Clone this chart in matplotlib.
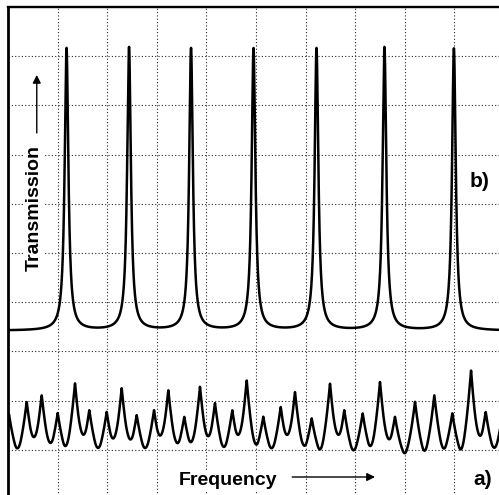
import numpy as np
import matplotlib
matplotlib.use("Agg")
import matplotlib.pyplot as plt

plt.rcParams['font.family'] = ['Liberation Sans', 'DejaVu Sans']

# screen is 10 x 10 divisions, picture is cropped a little at right and bottom
# trace b) : Fabry-Perot transmission peaks
b_centers = [1.18, 2.44, 3.69, 4.95, 6.22, 7.59, 8.99]
b_tops = [9.17, 9.19, 9.17, 9.17, 9.17, 9.19, 9.16]
b_base = 3.42

# trace a) : multimode spectrum, peak positions and peak levels
a_centers = [0.02, 0.377, 0.679, 1.002, 1.351, 1.639, 1.990, 2.292, 2.595,
             2.944, 3.232, 3.554, 3.871, 4.173, 4.522, 4.812, 5.147, 5.498,
             5.786, 6.123, 6.492, 6.780, 7.151, 7.500, 7.802, 8.206, 8.595,
             8.958, 9.335, 9.631, 9.98]
a_tops = [1.72, 1.978, 2.114, 1.748, 2.358, 1.809, 1.774, 2.256, 1.707,
          1.809, 2.215, 1.673, 2.283, 1.951, 1.809, 2.419, 1.673, 1.876,
          2.181, 1.640, 2.352, 1.809, 1.742, 2.384, 1.673, 1.978, 2.114,
          1.742, 2.622, 1.774, 1.80]
a_valley = 1.138

x = np.linspace(0, 10, 5000)

# b) lorentzian lines
gam = 0.045
bc = np.array(b_centers)
Mb = 1.0 / (1 + ((bc[:, None] - bc[None, :]) / gam) ** 2)
b_amp = np.linalg.solve(Mb, np.array(b_tops) - b_base)
yb = b_base + sum(A / (1 + ((x - c) / gam) ** 2) for A, c in zip(b_amp, bc))


# a) cusp topped lines, base adjusted so the valleys sit on a_valley
def line_a(d, s=0.24):
    return np.clip(1 - np.abs(d) / s, 0, None) ** 1.8


ac = np.array(a_centers)
Ma = line_a(ac[:, None] - ac[None, :])
off = 0.05
for _ in range(40):
    a_amp = np.linalg.solve(Ma, np.array(a_tops) - a_valley + off)
    ya = a_valley - off + sum(A * line_a(x - c) for A, c in zip(a_amp, ac))
    mins = [ya[(x > c1) & (x < c2)].min() for c1, c2 in zip(ac[1:-2], ac[2:-1])]
    off += np.mean(mins) - a_valley

fig = plt.figure(figsize=(4.99, 4.95), dpi=100, facecolor='white')
ax = fig.add_axes([8 / 499, (495 - 499) / 495, 496 / 499, 492 / 495])
ax.set_xlim(0, 10)
ax.set_ylim(0, 10)
ax.set_xticks(np.arange(0, 11))
ax.set_yticks(np.arange(0, 11))
ax.tick_params(length=0, labelbottom=False, labelleft=False)
ax.set_axisbelow(True)
ax.grid(True, color='0.15', linestyle=(0, (1, 2)), linewidth=0.8)
ax.spines['left'].set_linewidth(2.0)
ax.spines['top'].set_linewidth(1.7)
ax.spines['right'].set_visible(False)
ax.spines['bottom'].set_visible(False)

ax.plot(x, yb, color='black', linewidth=1.8)
ax.plot(x, ya, color='black', linewidth=1.8)

box = dict(facecolor='white', edgecolor='none', pad=1)
ax.text(0.524, 5.915, 'Transmission', rotation=90, fontsize=14, fontweight='bold',
        ha='center', va='center', bbox=box)
ax.annotate('', xy=(0.58, 8.62), xytext=(0.58, 7.44),
            arrowprops=dict(arrowstyle='-|>', color='black', lw=1.0,
                            mutation_scale=12, shrinkA=0, shrinkB=0))
ax.text(4.44, 0.285, 'Frequency', fontsize=14, fontweight='bold',
        ha='center', va='baseline', bbox=box)
ax.annotate('', xy=(7.40, 0.447), xytext=(5.73, 0.447),
            arrowprops=dict(arrowstyle='-|>', color='black', lw=1.0,
                            mutation_scale=12, shrinkA=0, shrinkB=0))
ax.text(9.567, 0.285, 'a)', fontsize=15, fontweight='bold', ha='center', va='baseline')
ax.text(9.516, 6.341, 'b)', fontsize=15, fontweight='bold', ha='center', va='baseline')

fig.savefig('out.png', dpi=100, facecolor='white')
